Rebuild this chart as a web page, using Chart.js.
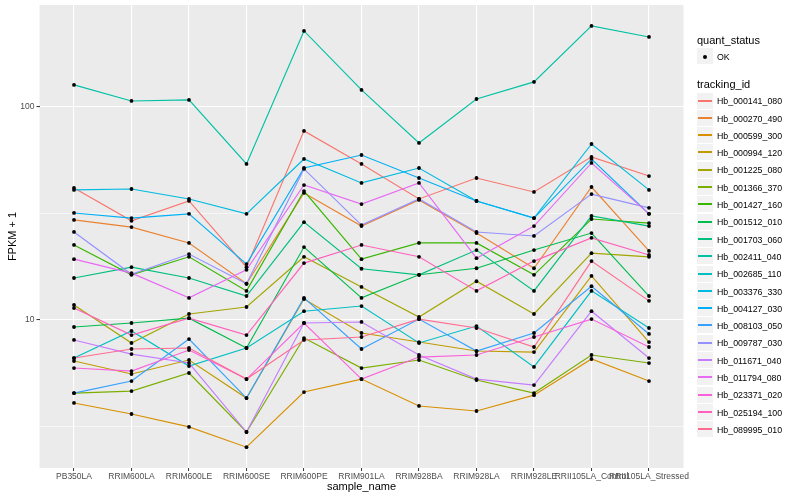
<!DOCTYPE html>
<html>
<head>
<meta charset="utf-8">
<script src="https://cdn.jsdelivr.net/npm/chart.js@4.4.0/dist/chart.umd.min.js"></script>
<style>
  html, body { margin: 0; padding: 0; background: #fff; }
  #wrap { position: relative; width: 800px; height: 500px; font-family: 'Liberation Sans', Arial, sans-serif; }
  #legend { position: absolute; left: 0; top: 0; width: 800px; height: 500px; pointer-events: none; }
  #legend div { position: absolute; white-space: nowrap; }
</style>
</head>
<body>
<div id="wrap">
  <canvas id="chart" width="800" height="500"></canvas>
  <div id="legend"></div>
</div>
<script>
// ── data ─────────────────────────────────────────────────
const samples = ['PB350LA', 'RRIM600LA', 'RRIM600LE', 'RRIM600SE', 'RRIM600PE', 'RRIM901LA',
                 'RRIM928BA', 'RRIM928LA', 'RRIM928LE', 'RRII105LA_Control', 'RRII105LA_Stressed'];

const trackingIds = ['Hb_000141_080', 'Hb_000270_490', 'Hb_000599_300', 'Hb_000994_120', 'Hb_001225_080',
                     'Hb_001366_370', 'Hb_001427_160', 'Hb_001512_010', 'Hb_001703_060', 'Hb_002411_040',
                     'Hb_002685_110', 'Hb_003376_330', 'Hb_004127_030', 'Hb_008103_050', 'Hb_009787_030',
                     'Hb_011671_040', 'Hb_011794_080', 'Hb_023371_020', 'Hb_025194_100', 'Hb_089995_010'];

// ggplot default hue palette, 20 levels
const lineColors = ['#F8766D', '#EA8331', '#D89000', '#C09B00', '#A3A500', '#7CAE00', '#39B600', '#00BB4E',
                    '#00BF7D', '#00C1A3', '#00BFC4', '#00BAE0', '#00B0F6', '#35A2FF', '#9590FF', '#C77CFF',
                    '#E76BF3', '#FA62DB', '#FF62BC', '#FF6C91'];

// FPKM + 1 per sample
const hb_000141_080 = [41.7, 29.2, 36.2, 17.7, 77.2, 54.0, 37.0, 46.4, 39.9, 58.3, 47.4];
const hb_000270_490 = [29.5, 27.3, 23.0, 14.8, 39.5, 27.6, 36.6, 25.6, 17.5, 42.1, 21.1];
const hb_000599_300 = [4.08, 3.62, 3.15, 2.53, 4.59, 5.28, 3.95, 3.74, 4.44, 6.56, 5.17];
const hb_000994_120 = [6.42, 5.58, 6.49, 4.30, 12.55, 8.69, 7.88, 7.15, 7.07, 16.1, 7.88];
const hb_001225_080 = [11.76, 7.80, 10.67, 11.51, 19.8, 14.3, 10.33, 15.2, 10.67, 20.6, 19.8];
const hb_001366_370 = [4.54, 4.64, 5.64, 2.98, 8.23, 5.95, 6.49, 5.23, 4.54, 6.85, 6.28];
const hb_001427_160 = [22.5, 16.3, 19.8, 13.7, 40.3, 19.3, 23.0, 23.0, 16.3, 29.8, 28.5];
const hb_001512_010 = [9.27, 9.68, 10.2, 7.39, 22.0, 12.7, 16.3, 17.5, 21.3, 25.6, 12.96];
const hb_001703_060 = [15.75, 17.7, 15.75, 12.96, 28.8, 17.4, 16.3, 21.3, 13.7, 30.8, 27.6];
const hb_002411_040 = [126.9, 106.7, 107.9, 54.0, 227.4, 120.2, 67.8, 109.0, 131.1, 240.1, 213.1];
const hb_002685_110 = [6.63, 8.88, 6.08, 7.39, 11.0, 11.63, 7.80, 9.37, 6.02, 13.7, 9.17];
const hb_003376_330 = [40.8, 41.2, 37.0, 31.5, 57.0, 44.0, 51.7, 36.2, 30.1, 67.0, 40.8];
const hb_004127_030 = [31.8, 30.1, 31.5, 18.3, 51.7, 59.5, 46.4, 36.2, 30.1, 57.0, 31.5];
const hb_008103_050 = [4.54, 5.17, 8.14, 4.30, 12.7, 7.31, 10.1, 7.15, 8.69, 14.4, 8.60];
const hb_009787_030 = [25.9, 16.4, 20.4, 14.8, 51.2, 27.9, 37.0, 25.9, 24.8, 39.0, 33.6];
const hb_011671_040 = [8.06, 6.92, 6.28, 2.98, 9.68, 9.79, 6.85, 5.28, 4.95, 11.0, 6.63];
const hb_011794_080 = [19.3, 16.6, 12.7, 17.2, 43.0, 35.0, 44.0, 19.5, 27.6, 54.6, 31.5];
const hb_023371_020 = [5.95, 5.76, 7.23, 5.28, 9.68, 5.28, 6.70, 6.85, 8.32, 10.1, 7.47];
const hb_025194_100 = [11.38, 8.50, 10.2, 8.50, 18.5, 22.5, 19.8, 13.7, 18.9, 24.3, 20.2];
const hb_089995_010 = [6.63, 7.31, 7.39, 5.28, 8.06, 8.32, 10.1, 9.17, 7.47, 18.9, 12.3];

const series = [hb_000141_080, hb_000270_490, hb_000599_300, hb_000994_120, hb_001225_080,
                hb_001366_370, hb_001427_160, hb_001512_010, hb_001703_060, hb_002411_040,
                hb_002685_110, hb_003376_330, hb_004127_030, hb_008103_050, hb_009787_030,
                hb_011671_040, hb_011794_080, hb_023371_020, hb_025194_100, hb_089995_010];

const yMajor = [10, 100];
const yMinor = [Math.sqrt(10), Math.sqrt(1000)];

// ── plugins ──────────────────────────────────────────────
const FONT = "'Liberation Sans', Arial, sans-serif";

// grey panel behind grid
const panelBg = {
  id: 'panelBg',
  beforeDraw(chart) {
    const { ctx, chartArea: a } = chart;
    ctx.save();
    ctx.fillStyle = '#EBEBEB';
    ctx.fillRect(a.left, a.top, a.right - a.left, a.bottom - a.top);
    ctx.restore();
  },
};

// points on top of every line (geom_point layer)
const pointsOnTop = {
  id: 'pointsOnTop',
  afterDatasetsDraw(chart) {
    const ctx = chart.ctx;
    ctx.save();
    ctx.fillStyle = '#000';
    chart.getSortedVisibleDatasetMetas().forEach(meta => {
      meta.data.forEach(pt => {
        ctx.beginPath();
        ctx.arc(pt.x, pt.y, 1.9, 0, Math.PI * 2);
        ctx.fill();
      });
    });
    ctx.restore();
  },
};

// ── chart ────────────────────────────────────────────────
new Chart(document.getElementById('chart'), {
  type: 'line',
  data: {
    datasets: series.map((vals, i) => ({
      label: trackingIds[i],
      data: vals.map((v, j) => ({ x: j, y: v })),
      borderColor: lineColors[i],
      borderWidth: 1.15,
      pointRadius: 0,
      tension: 0,
      order: series.length - i,
    })),
  },
  options: {
    responsive: false,
    animation: false,
    layout: { padding: { top: 5, right: 116.5, left: 0, bottom: 0 } },
    plugins: { legend: { display: false }, tooltip: { enabled: false } },
    scales: {
      x: {
        type: 'linear',
        min: -0.6, max: 10.6,
        bounds: 'data',
        afterBuildTicks: s => { s.ticks = samples.map((_, i) => ({ value: i })); },
        afterFit: s => { s.height = 32; s.paddingLeft = 0; s.paddingRight = 0; },
        ticks: {
          callback: v => samples[v],
          autoSkip: false, maxRotation: 0, minRotation: 0,
          color: '#4D4D4D', padding: 1,
          font: { family: FONT, size: 8.5 },
        },
        grid: { color: '#FFFFFF', lineWidth: 1.1, tickColor: '#333333', tickLength: 3, tickWidth: 1 },
        border: { display: false },
        title: {
          display: true, text: 'sample_name', color: '#000',
          font: { family: FONT, size: 11 }, padding: { top: 0, bottom: 6 },
        },
      },
      y: {
        type: 'logarithmic',
        min: 2.02, max: 301,
        bounds: 'data',
        afterBuildTicks: s => {
          s.ticks = [yMinor[0], yMajor[0], yMinor[1], yMajor[1]].map(v => ({ value: v }));
        },
        afterFit: s => { s.width = 39.5; s.paddingTop = 0; s.paddingBottom = 0; },
        ticks: {
          callback: v => (yMajor.includes(v) ? String(v) : ''),
          color: '#4D4D4D', padding: 2,
          font: { family: FONT, size: 8.5 },
        },
        grid: {
          color: '#FFFFFF',
          lineWidth: c => (c.tick && yMajor.includes(c.tick.value) ? 1.1 : 0.55),
          tickColor: c => (c.tick && yMajor.includes(c.tick.value) ? '#333333' : 'rgba(0,0,0,0)'),
          tickLength: 3, tickWidth: 1,
        },
        border: { display: false },
        title: {
          display: true, text: 'FPKM + 1', color: '#000',
          font: { family: FONT, size: 11 }, padding: { top: 6, bottom: 0 },
        },
      },
    },
  },
  plugins: [panelBg, pointsOnTop],
});

// ── legend (two ggplot guides) ───────────────────────────
const legend = document.getElementById('legend');
const KEY = 17.3, LX = 697, TX = 717;

function addDiv(css, text) {
  const d = document.createElement('div');
  d.style.cssText = css;
  if (text) d.textContent = text;
  legend.appendChild(d);
  return d;
}
function addLabel(text, x, cy, size) {
  addDiv(`left:${x}px;top:${cy}px;font-size:${size}px;line-height:1;transform:translateY(-50%);color:#000;`, text);
}

addLabel('quant_status', LX, 40, 11);
addDiv(`left:${LX}px;top:${Math.round(57 - KEY / 2)}px;width:16px;height:16px;background:#F2F2F2;`);
addDiv(`left:${LX + 6}px;top:55px;width:4px;height:4px;border-radius:50%;background:#000;`);
addLabel('OK', TX, 57, 8.8);

addLabel('tracking_id', LX, 84, 11);
trackingIds.forEach((id, i) => {
  const cy = 101.2 + i * KEY;
  const top = Math.round(cy - KEY / 2);
  addDiv(`left:${LX}px;top:${top}px;width:16px;height:16px;background:#F2F2F2;`);
  addDiv(`left:${LX + 1}px;top:${top + 7}px;width:14px;height:2px;background:${lineColors[i]};`);
  addLabel(id, TX, cy, 8.8);
});
</script>
</body>
</html>
